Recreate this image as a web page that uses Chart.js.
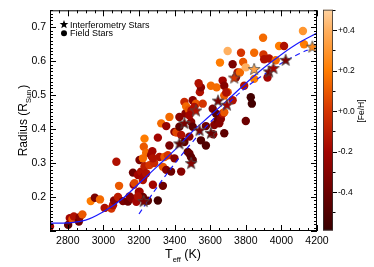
<!DOCTYPE html>
<html>
<head>
<meta charset="utf-8">
<script src="https://cdn.jsdelivr.net/npm/chart.js@4.4.1/dist/chart.umd.min.js"></script>
<style>
  html, body { margin: 0; padding: 0; background: #fff; }
  canvas { display: block; }
</style>
</head>
<body>
<canvas id="chart" width="374" height="267"></canvas>
<script>
// field stars: Teff (K), radius (Rsun), [Fe/H]
const fieldTeff = [2700, 2802, 2811, 2826, 2834, 2862, 2867, 2882, 2929, 2952, 2981, 3007, 3045, 3054, 3060, 3073, 3082, 3088, 3110, 3138,
  3147, 3160, 3166, 3170, 3175, 3185, 3194, 3199, 3203, 3203, 3212, 3222, 3222, 3226, 3222, 3231, 3227, 3240, 3231, 3240,
  3250, 3259, 3268, 3275, 3278, 3285, 3306, 3306, 3315, 3325, 3334, 3334, 3343, 3353, 3353, 3362, 3371, 3371, 3380, 3399,
  3399, 3410, 3427, 3427, 3437, 3437, 3455, 3455, 3461, 3465, 3474, 3480, 3483, 3483, 3492, 3493, 3495, 3502, 3502, 3502,
  3520, 3542, 3548, 3548, 3558, 3576, 3576, 3604, 3614, 3617, 3623, 3632, 3636, 3642, 3651, 3655, 3660, 3670, 3679, 3679,
  3679, 3698, 3726, 3800, 3828, 3834, 3670, 3679, 3690, 3698, 3726, 3745, 3754, 3767, 3773, 3785, 3791, 3800, 3847, 3847,
  3897, 3899, 3903, 3922, 3931, 3968, 3987, 4015, 4121, 4127, 3511, 3483, 3278, 3194, 3535];
const fieldRadius = [0.113, 0.118, 0.138, 0.135, 0.143, 0.128, 0.141, 0.149, 0.188, 0.198, 0.193, 0.168, 0.166, 0.176, 0.190, 0.304, 0.200, 0.233, 0.188, 0.187,
  0.202, 0.196, 0.272, 0.236, 0.241, 0.186, 0.265, 0.215, 0.309, 0.216, 0.275, 0.200, 0.250, 0.260, 0.314, 0.372, 0.348, 0.330, 0.291, 0.270,
  0.189, 0.294, 0.323, 0.335, 0.236, 0.300, 0.190, 0.375, 0.318, 0.417, 0.289, 0.233, 0.318, 0.280, 0.409, 0.323, 0.352, 0.436, 0.275, 0.314,
  0.392, 0.390, 0.407, 0.436, 0.383, 0.275, 0.362, 0.480, 0.446, 0.467, 0.333, 0.457, 0.328, 0.378, 0.318, 0.421, 0.455, 0.309, 0.407, 0.485,
  0.475, 0.509, 0.523, 0.367, 0.475, 0.352, 0.409, 0.528, 0.460, 0.385, 0.412, 0.446, 0.523, 0.426, 0.417, 0.596, 0.430, 0.446, 0.450, 0.499,
  0.388, 0.509, 0.485, 0.424, 0.494, 0.475, 0.543, 0.528, 0.508, 0.630, 0.591, 0.553, 0.567, 0.567, 0.625, 0.598, 0.528, 0.582, 0.625, 0.548,
  0.669, 0.620, 0.606, 0.552, 0.608, 0.603, 0.645, 0.645, 0.689, 0.650, 0.465, 0.441, 0.314, 0.202, 0.535];
const fieldFeH = [-0.2, -0.45, -0.2, 0.1, -0.15, -0.4, -0.3, 0.1, 0.2, -0.35, 0.15, -0.15, 0.0, -0.15, -0.3, -0.15, -0.1, 0.1, -0.35, -0.4,
  -0.3, -0.3, -0.4, -0.2, 0.05, -0.2, -0.2, -0.3, -0.35, -0.2, -0.15, -0.4, -0.15, -0.2, 0.15, 0.2, 0.1, 0.15, -0.1, -0.15,
  -0.45, 0.0, -0.25, -0.2, -0.2, -0.05, -0.55, -0.2, -0.15, 0.15, 0.1, -0.4, 0.1, -0.3, -0.25, 0.0, -0.35, 0.15, -0.4, -0.3,
  -0.3, 0.05, -0.45, -0.3, -0.15, -0.3, -0.45, -0.05, -0.3, 0.15, -0.45, 0.1, -0.4, -0.3, -0.45, -0.3, -0.15, -0.45, -0.45, -0.3,
  0.1, -0.15, -0.3, -0.5, 0.0, -0.5, -0.4, 0.15, -0.35, -0.3, -0.3, -0.45, 0.15, -0.4, -0.3, 0.2, -0.3, -0.15, 0.1, 0.1,
  -0.45, 0.1, -0.15, -0.4, -0.55, -0.55, -0.2, -0.3, -0.15, 0.4, -0.35, -0.3, -0.15, 0.15, 0.0, 0.1, -0.15, 0.4, 0.15, 0.2,
  0.15, 0.0, -0.15, -0.2, -0.15, 0.15, 0.2, -0.15, 0.3, 0.2, -0.15, -0.2, -0.15, -0.15, -0.15];

// interferometry stars
const starTeff = [3226, 3427, 3455, 3493, 3520, 3540, 3604, 3644, 3694, 3735, 3847, 3931, 3955, 4024, 4174];
const starRadius = [0.188, 0.358, 0.418, 0.300, 0.455, 0.397, 0.389, 0.484, 0.472, 0.552, 0.577, 0.570, 0.580, 0.604, 0.643];
const starFeH = [-0.35, -0.45, -0.35, -0.3, -0.15, -0.35, -0.4, -0.35, -0.2, 0.0, 0.35, -0.35, -0.2, -0.35, 0.25];

// relations
const fitTeff = [2700, 2800, 2900, 3000, 3100, 3200, 3300, 3400, 3500, 3600, 3700, 3800, 3900, 4000, 4100, 4200];
const fitRadius = [0.123, 0.124, 0.132, 0.157, 0.192, 0.240, 0.289, 0.338, 0.393, 0.440, 0.487, 0.535, 0.580, 0.620, 0.655, 0.683];
const dashTeff = [3200, 3300, 3400, 3500, 3600, 3700, 3800, 3900, 4000, 4100, 4170];
const dashRadius = [0.150, 0.228, 0.298, 0.362, 0.420, 0.475, 0.522, 0.560, 0.594, 0.622, 0.638];

const xTickVals = [2800, 3000, 3200, 3400, 3600, 3800, 4000, 4200];
const yTickVals = [0.2, 0.3, 0.4, 0.5, 0.6, 0.7];
const cbTicks = [0.4, 0.2, 0.0, -0.2, -0.4];
const cbLabels = ['+0.4', '+0.2', '+0.0', '-0.2', '-0.4'];
const cbMin = -0.59, cbMax = 0.50;

// colour table (dark red -> orange -> peach)
const colorStops = [[-0.59, [56, 0, 0]], [-0.4, [108, 0, 0]], [-0.2, [162, 4, 0]], [0.0, [212, 52, 0]],
  [0.2, [255, 124, 0]], [0.4, [255, 176, 96]], [0.5, [255, 210, 160]]];

function feColor(v) {
  if (v <= colorStops[0][0]) return 'rgb(' + colorStops[0][1].join(',') + ')';
  for (let i = 1; i < colorStops.length; i++) {
    if (v <= colorStops[i][0]) {
      const a = colorStops[i - 1], b = colorStops[i];
      const t = (v - a[0]) / (b[0] - a[0]);
      const c = a[1].map((x, k) => Math.round(x + (b[1][k] - x) * t));
      return 'rgb(' + c.join(',') + ')';
    }
  }
  return 'rgb(' + colorStops[colorStops.length - 1][1].join(',') + ')';
}

function starPath(ctx, cx, cy, ro, ri) {
  ctx.beginPath();
  for (let i = 0; i < 10; i++) {
    const r = i % 2 === 0 ? ro : ri;
    const ang = -Math.PI / 2 + i * Math.PI / 5;
    const x = cx + r * Math.cos(ang), y = cy + r * Math.sin(ang);
    if (i === 0) ctx.moveTo(x, y); else ctx.lineTo(x, y);
  }
  ctx.closePath();
}

function starImage(color) {
  const c = document.createElement('canvas');
  c.width = 14; c.height = 14;
  const g = c.getContext('2d');
  starPath(g, 7, 7.5, 6.2, 2.6);
  g.fillStyle = color;
  g.fill();
  g.lineWidth = 0.8;
  g.strokeStyle = '#4a4a4a';
  g.stroke();
  return c;
}

const FONT = '"Liberation Sans", Arial, Helvetica, sans-serif';

const decor = {
  id: 'decor',
  afterDraw(chart) {
    const ctx = chart.ctx;
    const a = chart.chartArea;
    const xs = chart.scales.x, ys = chart.scales.y;
    ctx.save();
    ctx.strokeStyle = '#000';
    ctx.lineWidth = 1;
    ctx.strokeRect(a.left + 0.5, a.top + 0.5, a.right - a.left - 1, a.bottom - a.top - 1);

    ctx.beginPath();
    for (let v = 2700; v <= 4200; v += 50) {
      const px = Math.round(xs.getPixelForValue(v)) + 0.5;
      const len = v % 200 === 0 ? 6 : 3;
      ctx.moveTo(px, a.bottom); ctx.lineTo(px, a.bottom - len);
      ctx.moveTo(px, a.top); ctx.lineTo(px, a.top + len);
    }
    for (let k = 10; k <= 75; k++) {
      const py = Math.round(ys.getPixelForValue(k / 100)) + 0.5;
      const len = k % 10 === 0 ? 6 : 3;
      ctx.moveTo(a.left, py); ctx.lineTo(a.left + len, py);
      ctx.moveTo(a.right, py); ctx.lineTo(a.right - len, py);
    }
    ctx.stroke();

    // legend
    ctx.fillStyle = '#000';
    starPath(ctx, 64, 24.5, 4.6, 1.9);
    ctx.fill();
    ctx.beginPath();
    ctx.arc(64, 33.3, 3, 0, Math.PI * 2);
    ctx.fill();
    ctx.font = '9px ' + FONT;
    ctx.textBaseline = 'alphabetic';
    ctx.textAlign = 'left';
    ctx.fillText('Interferometry Stars', 70, 27.5);
    ctx.fillText('Field Stars', 70, 36);

    // y title
    ctx.save();
    ctx.translate(22, 121);
    ctx.rotate(-Math.PI / 2);
    ctx.font = '12px ' + FONT;
    const w1 = ctx.measureText('Radius (R').width;
    const w3 = ctx.measureText(')').width;
    ctx.font = '7.5px ' + FONT;
    const w2 = ctx.measureText('Sun').width;
    let sx = -(w1 + w2 + w3) / 2;
    ctx.font = '12px ' + FONT;
    ctx.fillText('Radius (R', sx, 5);
    ctx.font = '7.5px ' + FONT;
    ctx.fillText('Sun', sx + w1, 8.5);
    ctx.font = '12px ' + FONT;
    ctx.fillText(')', sx + w1 + w2 + 1, 5);
    ctx.restore();

    // x title
    ctx.font = '12.5px ' + FONT;
    const t1 = ctx.measureText('T').width;
    const t3 = ctx.measureText(' (K)').width;
    ctx.font = '7.5px ' + FONT;
    const t2 = ctx.measureText('eff').width;
    let tx = 183 - (t1 + t2 + t3) / 2;
    ctx.font = '12.5px ' + FONT;
    ctx.fillText('T', tx, 258);
    ctx.font = '7.5px ' + FONT;
    ctx.fillText('eff', tx + t1, 262);
    ctx.font = '12.5px ' + FONT;
    ctx.fillText(' (K)', tx + t1 + t2, 258);

    // colour bar
    const cbL = 323, cbR = 333;
    const cy = v => 111 - v * 202.5;
    const grad = ctx.createLinearGradient(0, cy(cbMax), 0, cy(cbMin));
    colorStops.forEach(s => {
      grad.addColorStop((cbMax - s[0]) / (cbMax - cbMin), 'rgb(' + s[1].join(',') + ')');
    });
    ctx.fillStyle = grad;
    ctx.fillRect(cbL, cy(cbMax), cbR - cbL, cy(cbMin) - cy(cbMax));
    ctx.strokeStyle = '#333';
    ctx.lineWidth = 0.8;
    ctx.strokeRect(cbL + 0.4, cy(cbMax) + 0.4, cbR - cbL - 0.8, cy(cbMin) - cy(cbMax) - 0.8);
    ctx.beginPath();
    ctx.strokeStyle = '#000';
    ctx.lineWidth = 1;
    for (let k = -5; k <= 5; k++) {
      const py = Math.round(cy(k / 10)) + 0.5;
      const len = k % 2 === 0 ? 4 : 2.5;
      ctx.moveTo(cbR, py); ctx.lineTo(cbR + len, py);
    }
    ctx.stroke();
    ctx.fillStyle = '#000';
    ctx.font = '8.5px ' + FONT;
    ctx.textBaseline = 'middle';
    cbTicks.forEach((v, i) => ctx.fillText(cbLabels[i], 338, cy(v) + 0.5));
    ctx.save();
    ctx.translate(364, 111);
    ctx.rotate(-Math.PI / 2);
    ctx.textAlign = 'center';
    ctx.textBaseline = 'alphabetic';
    ctx.font = '8.5px ' + FONT;
    ctx.fillText('[Fe/H]', 0, 0);
    ctx.restore();

    ctx.restore();
  }
};

const ctx = document.getElementById('chart').getContext('2d');
const chart = new Chart(ctx, {
  type: 'scatter',
  data: {
    datasets: [
      {
        label: 'Field Stars',
        data: fieldTeff.map((t, i) => ({ x: t, y: fieldRadius[i] })),
        pointBackgroundColor: fieldFeH.map(feColor),
        pointBorderWidth: 0,
        pointRadius: 4.2,
        order: 3
      },
      {
        label: 'fit',
        data: fitTeff.map((t, i) => ({ x: t, y: fitRadius[i] })),
        showLine: true,
        borderColor: '#1a1aff',
        borderWidth: 1.2,
        pointRadius: 0,
        tension: 0.4,
        order: 2
      },
      {
        label: 'fit2',
        data: dashTeff.map((t, i) => ({ x: t, y: dashRadius[i] })),
        showLine: true,
        borderColor: '#1a1aff',
        borderWidth: 1.2,
        borderDash: [5, 4],
        pointRadius: 0,
        tension: 0.4,
        order: 2
      },
      {
        label: 'Interferometry Stars',
        data: starTeff.map((t, i) => ({ x: t, y: starRadius[i] })),
        pointStyle: starFeH.map(v => starImage(feColor(v))),
        pointRadius: 6,
        order: 1
      }
    ]
  },
  options: {
    responsive: false,
    animation: false,
    events: [],
    layout: { padding: { left: 0, right: 57, top: 10, bottom: 0 } },
    plugins: { legend: { display: false }, tooltip: { enabled: false } },
    scales: {
      x: {
        type: 'linear',
        min: 2700,
        max: 4200,
        afterBuildTicks: s => { s.ticks = xTickVals.map(v => ({ value: v })); },
        afterFit: s => { s.height = 36; },
        grid: { display: false, drawTicks: false },
        border: { display: false },
        ticks: { padding: 4, color: '#000', font: { family: FONT, size: 10.5 }, maxRotation: 0, callback: v => String(v) }
      },
      y: {
        type: 'linear',
        min: 0.1,
        max: 0.75,
        afterBuildTicks: s => { s.ticks = yTickVals.map(v => ({ value: v })); },
        afterFit: s => { s.width = 50; },
        grid: { display: false, drawTicks: false },
        border: { display: false },
        ticks: { padding: 4, color: '#000', font: { family: FONT, size: 10.5 }, callback: v => v.toFixed(1) }
      }
    }
  },
  plugins: [decor]
});
</script>
</body>
</html>
